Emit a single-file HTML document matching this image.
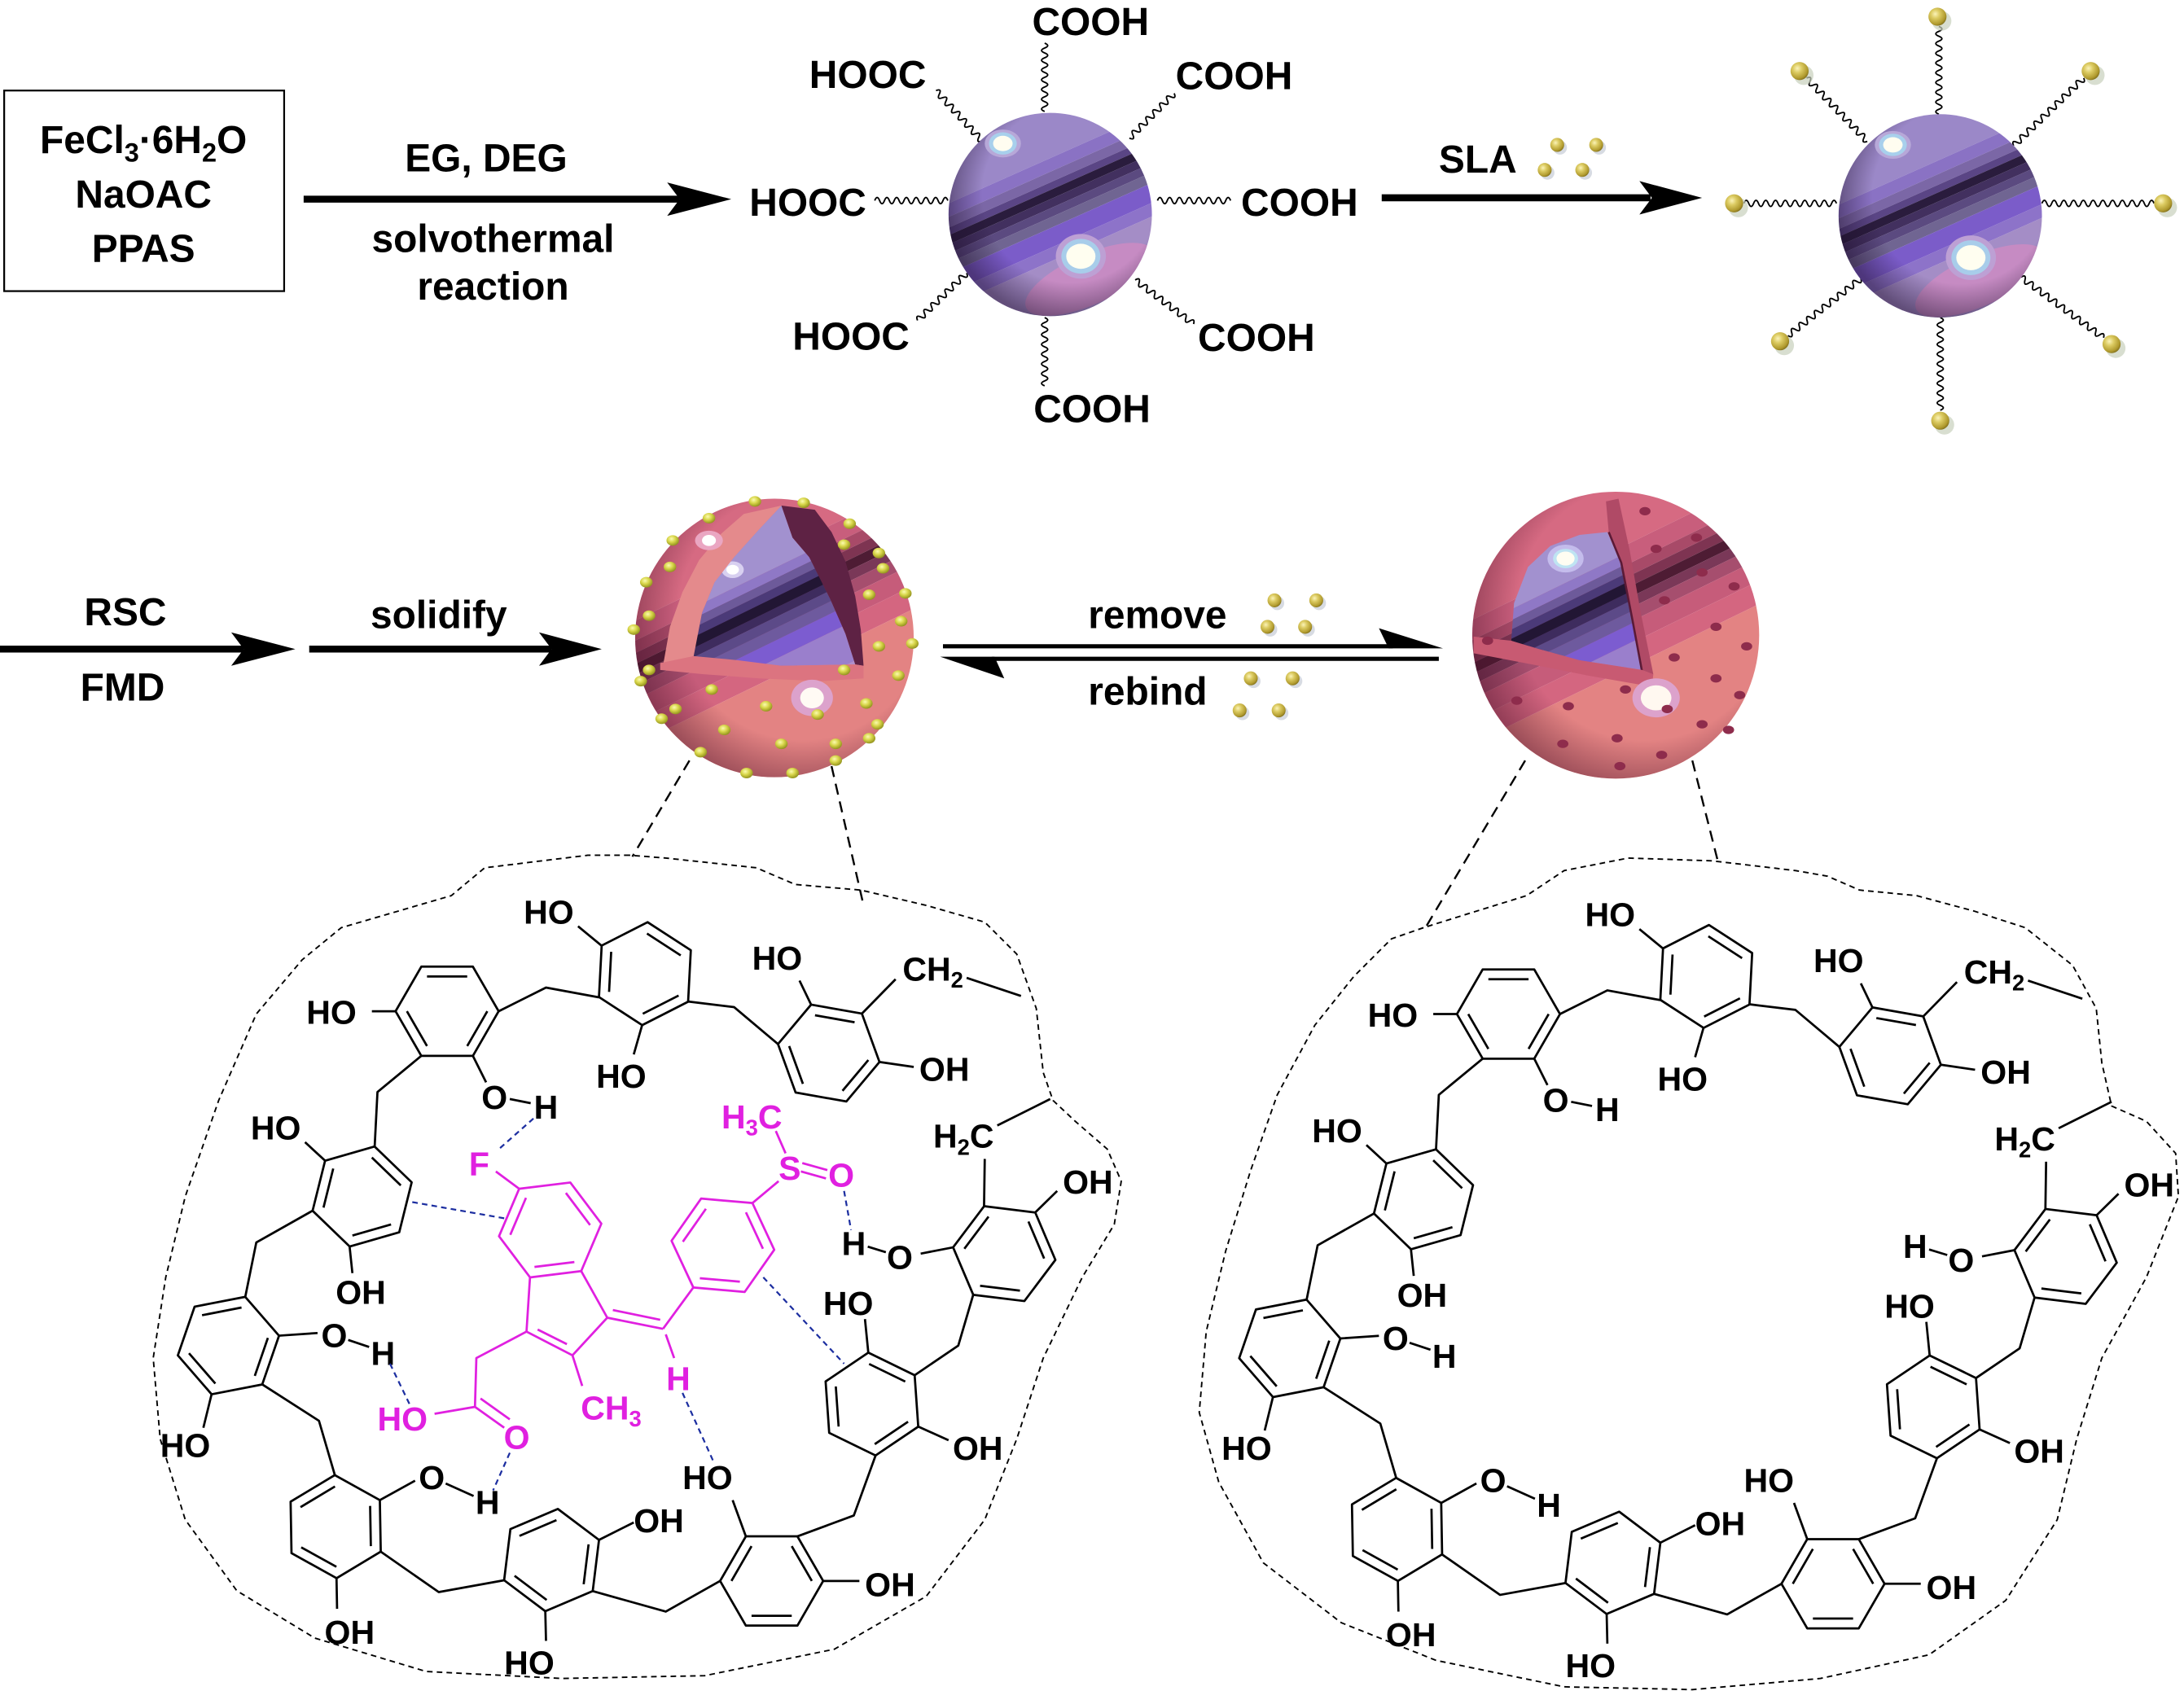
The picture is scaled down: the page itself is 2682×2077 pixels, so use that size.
<!DOCTYPE html>
<html><head><meta charset="utf-8"><style>
html,body{margin:0;padding:0;background:#fff;}
svg{display:block;}
.t{font-family:"Liberation Sans",Arial,sans-serif;font-weight:bold;}
</style></head><body>
<svg width="2682" height="2077" viewBox="0 0 1568 1214" preserveAspectRatio="none" xmlns="http://www.w3.org/2000/svg">
<defs>
<clipPath id="cs1"><circle cx="754" cy="154" r="73"/></clipPath>
<clipPath id="cs3"><circle cx="556" cy="458" r="100"/></clipPath>
<clipPath id="cs4"><circle cx="1160" cy="456" r="103"/></clipPath>
<clipPath id="cp3"><polygon points="498,471 504,440 513,418 527,400 545,380 561,363 569,386 581,400 596,430 607,455 614,477 561,478"/></clipPath>
<clipPath id="cp4"><polygon points="1085,460 1087,433 1097,407 1113,392 1134,384 1154,382 1163,403 1171,442 1179,481 1134,474 1105,466"/></clipPath>
<radialGradient id="rim" cx="0.6" cy="0.4" r="0.62"><stop offset="0.7" stop-color="#20102e" stop-opacity="0"/><stop offset="1" stop-color="#20102e" stop-opacity="0.5"/></radialGradient>
<radialGradient id="rim2" cx="0.6" cy="0.42" r="0.62"><stop offset="0.72" stop-color="#4a1028" stop-opacity="0"/><stop offset="1" stop-color="#4a1028" stop-opacity="0.45"/></radialGradient>
<radialGradient id="bead" cx="0.38" cy="0.35" r="0.7"><stop offset="0" stop-color="#fbf3b8"/><stop offset="0.35" stop-color="#dccb62"/><stop offset="0.8" stop-color="#b09a2e"/><stop offset="1" stop-color="#7d6c1a"/></radialGradient>
<radialGradient id="bead2" cx="0.4" cy="0.35" r="0.7"><stop offset="0" stop-color="#fbfbb0"/><stop offset="0.45" stop-color="#d8d64a"/><stop offset="1" stop-color="#8a8a18"/></radialGradient>
</defs>

<!-- ===== TOP ROW ===== -->
<rect x="3" y="65" width="201" height="144" fill="none" stroke="#000" stroke-width="1.3"/>
<text class="t" x="103" y="110" font-size="28" text-anchor="middle">FeCl<tspan font-size="19" dy="6">3</tspan><tspan dy="-6">·6H</tspan><tspan font-size="19" dy="6">2</tspan><tspan dy="-6">O</tspan></text>
<text class="t" x="103" y="149" font-size="28" text-anchor="middle">NaOAC</text>
<text class="t" x="103" y="188" font-size="28" text-anchor="middle">PPAS</text>

<line x1="218" y1="143" x2="488" y2="143" stroke="#000" stroke-width="5"/>
<polygon points="525,143 479,131 488,143 479,155" fill="#000"/>
<text class="t" x="349" y="123" font-size="28" text-anchor="middle">EG, DEG</text>
<text class="t" x="354" y="181" font-size="28" text-anchor="middle">solvothermal</text>
<text class="t" x="354" y="215" font-size="28" text-anchor="middle">reaction</text>

<!-- sphere 1 waves -->
<g fill="none" stroke="#000" stroke-width="1.1">
<path transform="translate(750,31) rotate(90)" d="M0,0q1.75,-4.4 3.5,0t3.5,0 3.5,0 3.5,0 3.5,0 3.5,0 3.5,0 3.5,0 3.5,0 3.5,0 3.5,0 3.5,0 3.5,0 3.5,0"/>
<path transform="translate(672,65) rotate(47.6)" d="M0,0q1.75,-4.4 3.5,0t3.5,0 3.5,0 3.5,0 3.5,0 3.5,0 3.5,0 3.5,0 3.5,0 3.5,0 3.5,0 3.5,0 3.5,0 3.5,0"/>
<path transform="translate(843,67) rotate(135)" d="M0,0q1.75,-4.4 3.5,0t3.5,0 3.5,0 3.5,0 3.5,0 3.5,0 3.5,0 3.5,0 3.5,0 3.5,0 3.5,0 3.5,0 3.5,0"/>
<path transform="translate(628,144)" d="M0,0q1.75,-4.4 3.5,0t3.5,0 3.5,0 3.5,0 3.5,0 3.5,0 3.5,0 3.5,0 3.5,0 3.5,0 3.5,0 3.5,0 3.5,0 3.5,0 3.5,0"/>
<path transform="translate(831,144)" d="M0,0q1.75,-4.4 3.5,0t3.5,0 3.5,0 3.5,0 3.5,0 3.5,0 3.5,0 3.5,0 3.5,0 3.5,0 3.5,0 3.5,0 3.5,0 3.5,0 3.5,0"/>
<path transform="translate(694,196) rotate(136)" d="M0,0q1.75,-4.4 3.5,0t3.5,0 3.5,0 3.5,0 3.5,0 3.5,0 3.5,0 3.5,0 3.5,0 3.5,0 3.5,0 3.5,0 3.5,0 3.5,0"/>
<path transform="translate(815,201) rotate(37)" d="M0,0q1.75,-4.4 3.5,0t3.5,0 3.5,0 3.5,0 3.5,0 3.5,0 3.5,0 3.5,0 3.5,0 3.5,0 3.5,0 3.5,0 3.5,0 3.5,0 3.5,0"/>
<path transform="translate(750,228) rotate(90)" d="M0,0q1.75,-4.4 3.5,0t3.5,0 3.5,0 3.5,0 3.5,0 3.5,0 3.5,0 3.5,0 3.5,0 3.5,0 3.5,0 3.5,0 3.5,0 3.5,0"/>
</g>

<!-- sphere 1 -->
<g id="sph1">
<g clip-path="url(#cs1)">
 <g transform="translate(754,154) rotate(-24)">
  <rect x="-100" y="-100" width="200" height="63" fill="#9b88c8"/>
  <rect x="-100" y="-37" width="200" height="9" fill="#8a72c4"/>
  <rect x="-100" y="-28" width="200" height="7" fill="#7b67a6"/>
  <rect x="-100" y="-21" width="200" height="5" fill="#5a4585"/>
  <rect x="-100" y="-16" width="200" height="6" fill="#2a1c3d"/>
  <rect x="-100" y="-10" width="200" height="6" fill="#42305f"/>
  <rect x="-100" y="-4" width="200" height="6" fill="#5b4a80"/>
  <rect x="-100" y="2" width="200" height="7" fill="#706592"/>
  <rect x="-100" y="9" width="200" height="13" fill="#7b5cc9"/>
  <rect x="-100" y="22" width="200" height="9" fill="#8d73c9"/>
  <rect x="-100" y="31" width="200" height="69" fill="#a48dc6"/>
  <ellipse cx="7" cy="54" rx="50" ry="18" fill="#c68bc3"/>
 </g>
 <circle cx="754" cy="154" r="73" fill="url(#rim)"/>
 <ellipse cx="720" cy="103" rx="13" ry="10" fill="#b7a8d8"/>
 <ellipse cx="720" cy="103" rx="10" ry="8" fill="#a8d0ec"/>
 <ellipse cx="720" cy="103" rx="7" ry="5.5" fill="#fffdf0"/>
 <ellipse cx="776" cy="184" rx="18" ry="16" fill="#bda0d4"/>
 <ellipse cx="776" cy="184" rx="14" ry="12.5" fill="#a8cdea"/>
 <ellipse cx="776" cy="184" rx="10.5" ry="9" fill="#fffef0"/>
</g>
</g>

<g class="t" font-size="28" text-anchor="middle">
<text x="783" y="25">COOH</text>
<text x="623" y="63">HOOC</text>
<text x="886" y="64">COOH</text>
<text x="580" y="155">HOOC</text>
<text x="933" y="155">COOH</text>
<text x="611" y="251">HOOC</text>
<text x="902" y="252">COOH</text>
<text x="784" y="303">COOH</text>
</g>

<line x1="992" y1="142" x2="1185" y2="142" stroke="#000" stroke-width="5"/>
<polygon points="1222,142 1177,130 1186,142 1177,154" fill="#000"/>
<text class="t" x="1061" y="124" font-size="28" text-anchor="middle">SLA</text>
<g>
<ellipse cx="1120" cy="106" rx="5" ry="5" fill="#c6ccd6" opacity="0.7"/>
<ellipse cx="1118" cy="104" rx="5" ry="5" fill="url(#bead)"/>
<ellipse cx="1148" cy="106" rx="5" ry="5" fill="#c6ccd6" opacity="0.7"/>
<ellipse cx="1146" cy="104" rx="5" ry="5" fill="url(#bead)"/>
<ellipse cx="1111" cy="124" rx="5" ry="5" fill="#c6ccd6" opacity="0.7"/>
<ellipse cx="1109" cy="122" rx="5" ry="5" fill="url(#bead)"/>
<ellipse cx="1138" cy="124" rx="5" ry="5" fill="#c6ccd6" opacity="0.7"/>
<ellipse cx="1136" cy="122" rx="5" ry="5" fill="url(#bead)"/>
</g>

<!-- sphere 2 waves -->
<g fill="none" stroke="#000" stroke-width="1.1">
<path transform="translate(1392,19) rotate(90)" d="M0,0q1.75,-4.4 3.5,0t3.5,0 3.5,0 3.5,0 3.5,0 3.5,0 3.5,0 3.5,0 3.5,0 3.5,0 3.5,0 3.5,0 3.5,0 3.5,0 3.5,0 3.5,0 3.5,0 3.5,0"/>
<path transform="translate(1297,56) rotate(46.2)" d="M0,0q1.75,-4.4 3.5,0t3.5,0 3.5,0 3.5,0 3.5,0 3.5,0 3.5,0 3.5,0 3.5,0 3.5,0 3.5,0 3.5,0 3.5,0 3.5,0 3.5,0 3.5,0 3.5,0 3.5,0"/>
<path transform="translate(1496,56) rotate(136)" d="M0,0q1.75,-4.4 3.5,0t3.5,0 3.5,0 3.5,0 3.5,0 3.5,0 3.5,0 3.5,0 3.5,0 3.5,0 3.5,0 3.5,0 3.5,0 3.5,0 3.5,0 3.5,0 3.5,0 3.5,0 3.5,0 3.5,0"/>
<path transform="translate(1252,146)" d="M0,0q1.75,-4.4 3.5,0t3.5,0 3.5,0 3.5,0 3.5,0 3.5,0 3.5,0 3.5,0 3.5,0 3.5,0 3.5,0 3.5,0 3.5,0 3.5,0 3.5,0 3.5,0 3.5,0 3.5,0 3.5,0"/>
<path transform="translate(1466,146)" d="M0,0q1.75,-4.4 3.5,0t3.5,0 3.5,0 3.5,0 3.5,0 3.5,0 3.5,0 3.5,0 3.5,0 3.5,0 3.5,0 3.5,0 3.5,0 3.5,0 3.5,0 3.5,0 3.5,0 3.5,0 3.5,0 3.5,0 3.5,0 3.5,0 3.5,0"/>
<path transform="translate(1336,200) rotate(142)" d="M0,0q1.75,-4.4 3.5,0t3.5,0 3.5,0 3.5,0 3.5,0 3.5,0 3.5,0 3.5,0 3.5,0 3.5,0 3.5,0 3.5,0 3.5,0 3.5,0 3.5,0 3.5,0 3.5,0 3.5,0 3.5,0"/>
<path transform="translate(1451,199) rotate(36.3)" d="M0,0q1.75,-4.4 3.5,0t3.5,0 3.5,0 3.5,0 3.5,0 3.5,0 3.5,0 3.5,0 3.5,0 3.5,0 3.5,0 3.5,0 3.5,0 3.5,0 3.5,0 3.5,0 3.5,0 3.5,0 3.5,0 3.5,0 3.5,0"/>
<path transform="translate(1393,228) rotate(90)" d="M0,0q1.75,-4.4 3.5,0t3.5,0 3.5,0 3.5,0 3.5,0 3.5,0 3.5,0 3.5,0 3.5,0 3.5,0 3.5,0 3.5,0 3.5,0 3.5,0 3.5,0 3.5,0 3.5,0 3.5,0 3.5,0"/>
</g>

<!-- sphere 2 -->
<g transform="translate(639,1)">
<g clip-path="url(#cs1)">
 <g transform="translate(754,154) rotate(-24)">
  <rect x="-100" y="-100" width="200" height="63" fill="#9b88c8"/>
  <rect x="-100" y="-37" width="200" height="9" fill="#8a72c4"/>
  <rect x="-100" y="-28" width="200" height="7" fill="#7b67a6"/>
  <rect x="-100" y="-21" width="200" height="5" fill="#5a4585"/>
  <rect x="-100" y="-16" width="200" height="6" fill="#2a1c3d"/>
  <rect x="-100" y="-10" width="200" height="6" fill="#42305f"/>
  <rect x="-100" y="-4" width="200" height="6" fill="#5b4a80"/>
  <rect x="-100" y="2" width="200" height="7" fill="#706592"/>
  <rect x="-100" y="9" width="200" height="13" fill="#7b5cc9"/>
  <rect x="-100" y="22" width="200" height="9" fill="#8d73c9"/>
  <rect x="-100" y="31" width="200" height="69" fill="#a48dc6"/>
  <ellipse cx="7" cy="54" rx="50" ry="18" fill="#c68bc3"/>
 </g>
 <circle cx="754" cy="154" r="73" fill="url(#rim)"/>
 <ellipse cx="720" cy="103" rx="13" ry="10" fill="#b7a8d8"/>
 <ellipse cx="720" cy="103" rx="10" ry="8" fill="#a8d0ec"/>
 <ellipse cx="720" cy="103" rx="7" ry="5.5" fill="#fffdf0"/>
 <ellipse cx="776" cy="184" rx="18" ry="16" fill="#bda0d4"/>
 <ellipse cx="776" cy="184" rx="14" ry="12.5" fill="#a8cdea"/>
 <ellipse cx="776" cy="184" rx="10.5" ry="9" fill="#fffef0"/>
</g>
</g>

<!-- sphere 2 beads -->
<g>
<circle cx="1394" cy="15" r="7" fill="#c8d0bc" opacity="0.7"/><circle cx="1391" cy="12" r="6.5" fill="url(#bead)"/>
<circle cx="1295" cy="54" r="7" fill="#c8d0bc" opacity="0.7"/><circle cx="1292" cy="51" r="6.5" fill="url(#bead)"/>
<circle cx="1504" cy="54" r="7" fill="#c8d0bc" opacity="0.7"/><circle cx="1501" cy="51" r="6.5" fill="url(#bead)"/>
<circle cx="1248" cy="149" r="7" fill="#c8d0bc" opacity="0.7"/><circle cx="1245" cy="146" r="6.5" fill="url(#bead)"/>
<circle cx="1556" cy="149" r="7" fill="#c8d0bc" opacity="0.7"/><circle cx="1553" cy="146" r="6.5" fill="url(#bead)"/>
<circle cx="1281" cy="248" r="7" fill="#c8d0bc" opacity="0.7"/><circle cx="1278" cy="245" r="6.5" fill="url(#bead)"/>
<circle cx="1519" cy="250" r="7" fill="#c8d0bc" opacity="0.7"/><circle cx="1516" cy="247" r="6.5" fill="url(#bead)"/>
<circle cx="1396" cy="305" r="7" fill="#c8d0bc" opacity="0.7"/><circle cx="1393" cy="302" r="6.5" fill="url(#bead)"/>
</g>

<!-- ===== MIDDLE ROW ===== -->
<text class="t" x="90" y="449" font-size="28" text-anchor="middle">RSC</text>
<text class="t" x="88" y="503" font-size="28" text-anchor="middle">FMD</text>
<line x1="0" y1="466" x2="175" y2="466" stroke="#000" stroke-width="5"/>
<polygon points="212,466 166,454 175,466 166,478" fill="#000"/>
<text class="t" x="315" y="451" font-size="28" text-anchor="middle">solidify</text>
<line x1="222" y1="466" x2="396" y2="466" stroke="#000" stroke-width="5"/>
<polygon points="432,466 387,454 396,466 387,478" fill="#000"/>

<line x1="677" y1="464" x2="1000" y2="464" stroke="#000" stroke-width="3"/>
<polygon points="1036,465.5 990,451 997,465.5" fill="#000"/>
<line x1="712" y1="473" x2="1033" y2="473" stroke="#000" stroke-width="3"/>
<polygon points="675,471.5 721,487 714,471.5" fill="#000"/>
<text class="t" x="831" y="451" font-size="28" text-anchor="middle">remove</text>
<text class="t" x="824" y="506" font-size="28" text-anchor="middle">rebind</text>
<g>
<circle cx="917" cy="433" r="5" fill="#c6ccd6" opacity="0.7"/><circle cx="915" cy="431" r="5" fill="url(#bead)"/>
<circle cx="947" cy="433" r="5" fill="#c6ccd6" opacity="0.7"/><circle cx="945" cy="431" r="5" fill="url(#bead)"/>
<circle cx="912" cy="452" r="5" fill="#c6ccd6" opacity="0.7"/><circle cx="910" cy="450" r="5" fill="url(#bead)"/>
<circle cx="939" cy="452" r="5" fill="#c6ccd6" opacity="0.7"/><circle cx="937" cy="450" r="5" fill="url(#bead)"/>
<circle cx="900" cy="489" r="5" fill="#c6ccd6" opacity="0.7"/><circle cx="898" cy="487" r="5" fill="url(#bead)"/>
<circle cx="930" cy="489" r="5" fill="#c6ccd6" opacity="0.7"/><circle cx="928" cy="487" r="5" fill="url(#bead)"/>
<circle cx="892" cy="512" r="5" fill="#c6ccd6" opacity="0.7"/><circle cx="890" cy="510" r="5" fill="url(#bead)"/>
<circle cx="920" cy="512" r="5" fill="#c6ccd6" opacity="0.7"/><circle cx="918" cy="510" r="5" fill="url(#bead)"/>
</g>

<!-- sphere 3 -->
<g clip-path="url(#cs3)">
 <g transform="translate(556,458) rotate(-26)">
  <rect x="-130" y="-130" width="260" height="75" fill="#d66a82"/>
  <rect x="-130" y="-55" width="260" height="13" fill="#c85e7c"/>
  <rect x="-130" y="-42" width="260" height="8" fill="#a84a68"/>
  <rect x="-130" y="-34" width="260" height="7" fill="#7e3452"/>
  <rect x="-130" y="-27" width="260" height="7" fill="#4e1c34"/>
  <rect x="-130" y="-20" width="260" height="7" fill="#7a3858"/>
  <rect x="-130" y="-13" width="260" height="9" fill="#a64e6e"/>
  <rect x="-130" y="-4" width="260" height="14" fill="#c65c7a"/>
  <rect x="-130" y="10" width="260" height="15" fill="#d46680"/>
  <rect x="-130" y="25" width="260" height="105" fill="#e38383"/>
 </g>
 <circle cx="556" cy="458" r="100" fill="url(#rim2)"/>
 <g clip-path="url(#cp3)">
  <g transform="translate(556,458) rotate(-26)">
   <rect x="-130" y="-130" width="260" height="85" fill="#a291cf"/>
   <rect x="-130" y="-45" width="260" height="7" fill="#8f78c6"/>
   <rect x="-130" y="-38" width="260" height="6" fill="#6d5a9a"/>
   <rect x="-130" y="-32" width="260" height="6" fill="#4b3a78"/>
   <rect x="-130" y="-26" width="260" height="7" fill="#221634"/>
   <rect x="-130" y="-19" width="260" height="6" fill="#3e2c5e"/>
   <rect x="-130" y="-13" width="260" height="7" fill="#5c4a88"/>
   <rect x="-130" y="-6" width="260" height="8" fill="#6e5a9e"/>
   <rect x="-130" y="2" width="260" height="12" fill="#7c5cd0"/>
   <rect x="-130" y="14" width="260" height="26" fill="#9a7fcc"/>
   <rect x="-130" y="40" width="260" height="90" fill="#b090cc"/>
  </g>
  <ellipse cx="526" cy="409" rx="8" ry="6" fill="#d8d0f0"/>
  <ellipse cx="526" cy="409" rx="4.5" ry="3.5" fill="#fff"/>
 </g>
 <polygon points="534,369 561,363 545,380 527,400 513,418 504,440 498,471 476,478 481,450 490,425 502,402 518,383" fill="#e48a8c"/>
 <polygon points="561,363 585,366 597,382 607,403 614,428 618,452 620,478 614,477 607,455 596,430 581,400 569,386" fill="#5e2244"/>
 <polygon points="474,476 498,471 530,474 561,478 614,477 620,478 620,487 590,489 545,487 505,484 474,481" fill="#dc7480"/>
 <ellipse cx="509" cy="388" rx="10" ry="7" fill="#eaa6c2"/>
 <ellipse cx="509" cy="388" rx="5" ry="4" fill="#fff"/>
 <ellipse cx="583" cy="501" rx="15" ry="13" fill="#dca2cc"/>
 <ellipse cx="583" cy="501" rx="8.5" ry="7.5" fill="#fffaf4"/>
</g>
<g fill="url(#bead2)">
<ellipse cx="542" cy="360" rx="4.5" ry="3.8"/><ellipse cx="577" cy="361" rx="4.5" ry="3.8"/>
<ellipse cx="509" cy="372" rx="4.5" ry="3.8"/><ellipse cx="610" cy="376" rx="4.5" ry="3.8"/>
<ellipse cx="483" cy="388" rx="4.5" ry="3.8"/><ellipse cx="606" cy="391" rx="4.5" ry="3.8"/>
<ellipse cx="631" cy="397" rx="4.5" ry="3.8"/><ellipse cx="634" cy="408" rx="4.5" ry="3.8"/>
<ellipse cx="481" cy="407" rx="4.5" ry="3.8"/><ellipse cx="464" cy="418" rx="4.5" ry="3.8"/>
<ellipse cx="624" cy="427" rx="4.5" ry="3.8"/><ellipse cx="650" cy="426" rx="4.5" ry="3.8"/>
<ellipse cx="466" cy="442" rx="4.5" ry="3.8"/><ellipse cx="647" cy="446" rx="4.5" ry="3.8"/>
<ellipse cx="455" cy="452" rx="4.5" ry="3.8"/><ellipse cx="631" cy="464" rx="4.5" ry="3.8"/>
<ellipse cx="655" cy="462" rx="4.5" ry="3.8"/><ellipse cx="606" cy="481" rx="4.5" ry="3.8"/>
<ellipse cx="466" cy="481" rx="4.5" ry="3.8"/><ellipse cx="460" cy="489" rx="4.5" ry="3.8"/>
<ellipse cx="645" cy="485" rx="4.5" ry="3.8"/><ellipse cx="511" cy="495" rx="4.5" ry="3.8"/>
<ellipse cx="550" cy="507" rx="4.5" ry="3.8"/><ellipse cx="587" cy="513" rx="4.5" ry="3.8"/>
<ellipse cx="485" cy="509" rx="4.5" ry="3.8"/><ellipse cx="622" cy="505" rx="4.5" ry="3.8"/>
<ellipse cx="475" cy="516" rx="4.5" ry="3.8"/><ellipse cx="520" cy="524" rx="4.5" ry="3.8"/>
<ellipse cx="630" cy="520" rx="4.5" ry="3.8"/><ellipse cx="561" cy="534" rx="4.5" ry="3.8"/>
<ellipse cx="600" cy="534" rx="4.5" ry="3.8"/><ellipse cx="503" cy="540" rx="4.5" ry="3.8"/>
<ellipse cx="624" cy="530" rx="4.5" ry="3.8"/><ellipse cx="536" cy="555" rx="4.5" ry="3.8"/>
<ellipse cx="569" cy="555" rx="4.5" ry="3.8"/><ellipse cx="600" cy="546" rx="4.5" ry="3.8"/>
</g>

<!-- sphere 4 -->
<g clip-path="url(#cs4)">
 <g transform="translate(1160,456) rotate(-26)">
  <rect x="-130" y="-130" width="260" height="75" fill="#d66a82"/>
  <rect x="-130" y="-55" width="260" height="13" fill="#c85e7c"/>
  <rect x="-130" y="-42" width="260" height="8" fill="#a84a68"/>
  <rect x="-130" y="-34" width="260" height="7" fill="#7e3452"/>
  <rect x="-130" y="-27" width="260" height="7" fill="#4e1c34"/>
  <rect x="-130" y="-20" width="260" height="7" fill="#7a3858"/>
  <rect x="-130" y="-13" width="260" height="9" fill="#a64e6e"/>
  <rect x="-130" y="-4" width="260" height="14" fill="#c65c7a"/>
  <rect x="-130" y="10" width="260" height="15" fill="#d46680"/>
  <rect x="-130" y="25" width="260" height="105" fill="#e38383"/>
 </g>
 <circle cx="1160" cy="456" r="103" fill="url(#rim2)"/>
 <g clip-path="url(#cp4)">
  <g transform="translate(1160,451) rotate(-26)">
   <rect x="-130" y="-130" width="260" height="85" fill="#a291cf"/>
   <rect x="-130" y="-45" width="260" height="7" fill="#8f78c6"/>
   <rect x="-130" y="-38" width="260" height="6" fill="#6d5a9a"/>
   <rect x="-130" y="-32" width="260" height="6" fill="#4b3a78"/>
   <rect x="-130" y="-26" width="260" height="7" fill="#221634"/>
   <rect x="-130" y="-19" width="260" height="6" fill="#3e2c5e"/>
   <rect x="-130" y="-13" width="260" height="7" fill="#5c4a88"/>
   <rect x="-130" y="-6" width="260" height="8" fill="#6e5a9e"/>
   <rect x="-130" y="2" width="260" height="12" fill="#7c5cd0"/>
   <rect x="-130" y="14" width="260" height="26" fill="#9a7fcc"/>
   <rect x="-130" y="40" width="260" height="90" fill="#b090cc"/>
  </g>
  <ellipse cx="1124" cy="401" rx="13" ry="10" fill="#c4bcec"/>
  <ellipse cx="1124" cy="401" rx="9" ry="7" fill="#bfe4f2"/>
  <ellipse cx="1124" cy="401" rx="6.5" ry="5" fill="#fffdf2"/>
 </g>
 <polygon points="1153,360 1162,358 1170,395 1178,440 1187,484 1180,488 1172,445 1164,404 1155,382" fill="#b04a66"/>
 <polyline points="1155,382 1164,404 1172,445 1180,488" fill="none" stroke="#5a1a36" stroke-width="1.5"/>
 <polygon points="1058,457 1085,460 1105,466 1134,474 1179,481 1187,484 1186,493 1140,485 1100,477 1058,469" fill="#c85a72"/>
 <ellipse cx="1189" cy="501" rx="17" ry="14" fill="#dca2cc"/>
 <ellipse cx="1189" cy="501" rx="11" ry="9" fill="#fff8f0"/>
</g>
<g fill="#8e2c4c">
<ellipse cx="1181" cy="367" rx="4" ry="3"/><ellipse cx="1218" cy="386" rx="4" ry="3"/>
<ellipse cx="1189" cy="394" rx="4" ry="3"/><ellipse cx="1222" cy="411" rx="4" ry="3"/>
<ellipse cx="1245" cy="421" rx="4" ry="3"/><ellipse cx="1195" cy="431" rx="4" ry="3"/>
<ellipse cx="1232" cy="450" rx="4" ry="3"/><ellipse cx="1254" cy="464" rx="4" ry="3"/>
<ellipse cx="1202" cy="472" rx="4" ry="3"/><ellipse cx="1167" cy="495" rx="4" ry="3"/>
<ellipse cx="1126" cy="507" rx="4" ry="3"/><ellipse cx="1089" cy="503" rx="4" ry="3"/>
<ellipse cx="1232" cy="487" rx="4" ry="3"/><ellipse cx="1249" cy="499" rx="4" ry="3"/>
<ellipse cx="1222" cy="520" rx="4" ry="3"/><ellipse cx="1197" cy="509" rx="4" ry="3"/>
<ellipse cx="1161" cy="530" rx="4" ry="3"/><ellipse cx="1122" cy="534" rx="4" ry="3"/>
<ellipse cx="1193" cy="542" rx="4" ry="3"/><ellipse cx="1163" cy="550" rx="4" ry="3"/>
<ellipse cx="1241" cy="524" rx="4" ry="3"/><ellipse cx="1068" cy="460" rx="4" ry="3"/>
</g>

<!-- dashed zoom lines -->
<g stroke="#000" stroke-width="1.4" stroke-dasharray="8 5" fill="none">
<line x1="495" y1="546" x2="454" y2="615"/>
<line x1="597" y1="550" x2="620" y2="650"/>
<line x1="1095" y1="546" x2="1024" y2="665"/>
<line x1="1215" y1="546" x2="1233" y2="617"/>
</g>

<!-- clouds -->
<g fill="none" stroke="#000" stroke-width="1.1" stroke-dasharray="4 3" stroke-linejoin="round">
<polygon points="452,614 422,614 348,623 324,643 245,666 217,689 184,728 157,790 133,859 119,917 110,975 115,1033 133,1091 170,1142 226,1176 306,1200 404,1205 506,1203 599,1184 665,1146 707,1091 730,1033 749,975 777,917 800,879 805,848 795,825 772,805 756,790 749,770 744,724 730,685 707,662 665,650 618,639 571,635 543,623 478,616"/>
<polygon points="1022,666 999,674 972,701 944,736 917,786 898,840 880,898 866,956 861,1014 875,1064 907,1122 963,1165 1031,1192 1123,1211 1215,1213 1307,1205 1385,1188 1440,1149 1477,1091 1491,1033 1509,975 1541,917 1564,859 1562,828 1541,805 1516,794 1509,763 1505,724 1488,693 1454,666 1417,654 1376,643 1335,639 1312,629 1289,625 1229,618 1169,616 1123,625 1096,643 1054,656"/>
</g>

<!-- ===== LEFT STRUCTURE (black) ===== -->
<g id="leftS">
<g fill="none" stroke="#000" stroke-width="1.6" stroke-linejoin="round">
<path transform="translate(321,726)" d="M37,0L18.5,32.04L-18.5,32.04L-37,0L-18.5,-32.04L18.5,-32.04Z M28.86,0L14.43,24.99M-14.43,24.99L-28.86,0M-14.43,-24.99L14.43,-24.99"/>
<path transform="translate(463,699) rotate(-27)" d="M37,0L18.5,32.04L-18.5,32.04L-37,0L-18.5,-32.04L18.5,-32.04Z M14.43,24.99L-14.43,24.99M-28.86,0L-14.43,-24.99M14.43,-24.99L28.86,0"/>
<path transform="translate(595,756) rotate(10)" d="M37,0L18.5,32.04L-18.5,32.04L-37,0L-18.5,-32.04L18.5,-32.04Z M28.86,0L14.43,24.99M-14.43,24.99L-28.86,0M-14.43,-24.99L14.43,-24.99"/>
<path transform="translate(260,859) rotate(-16)" d="M37,0L18.5,32.04L-18.5,32.04L-37,0L-18.5,-32.04L18.5,-32.04Z M14.43,24.99L-14.43,24.99M-28.86,0L-14.43,-24.99M14.43,-24.99L28.86,0"/>
<path transform="translate(164,966) rotate(-11)" d="M37,0L18.5,32.04L-18.5,32.04L-37,0L-18.5,-32.04L18.5,-32.04Z M28.86,0L14.43,24.99M-14.43,24.99L-28.86,0M-14.43,-24.99L14.43,-24.99"/>
<path transform="translate(241,1096) rotate(29)" d="M37,0L18.5,32.04L-18.5,32.04L-37,0L-18.5,-32.04L18.5,-32.04Z M14.43,24.99L-14.43,24.99M-28.86,0L-14.43,-24.99M14.43,-24.99L28.86,0"/>
<path transform="translate(396,1120) rotate(-23)" d="M37,0L18.5,32.04L-18.5,32.04L-37,0L-18.5,-32.04L18.5,-32.04Z M28.86,0L14.43,24.99M-14.43,24.99L-28.86,0M-14.43,-24.99L14.43,-24.99"/>
<path transform="translate(554,1135)" d="M37,0L18.5,32.04L-18.5,32.04L-37,0L-18.5,-32.04L18.5,-32.04Z M14.43,24.99L-14.43,24.99M-28.86,0L-14.43,-24.99M14.43,-24.99L28.86,0"/>
<path transform="translate(626,1008) rotate(26)" d="M37,0L18.5,32.04L-18.5,32.04L-37,0L-18.5,-32.04L18.5,-32.04Z M28.86,0L14.43,24.99M-14.43,24.99L-28.86,0M-14.43,-24.99L14.43,-24.99"/>
<path transform="translate(721,900) rotate(7)" d="M37,0L18.5,32.04L-18.5,32.04L-37,0L-18.5,-32.04L18.5,-32.04Z M14.43,24.99L-14.43,24.99M-28.86,0L-14.43,-24.99M14.43,-24.99L28.86,0"/>
<path d="M267,726L284,726 M358,726L392,709L430,716 M339.5,758L349,777 M366,789L381,792 M302.5,758L271,784L269,823 M432,679L415,665 M461,736L455,757 M494,719L527,723L558.6,749.6 M582.3,721.2L574,704 M618.8,727.7L643,703 M694,702L733,715 M631.4,762.4L656,766 M233.4,833.3L219,820 M251,895L253,914 M224.4,869.2L184,892L176.1,931 M200.3,958.9L228,957 M250,962L265,967 M151.9,1001L146,1025 M188.3,993.9L229,1020L240.4,1059 M272.7,1077L298,1063 M320,1065L340,1074 M241.6,1133L242,1155 M273.4,1114L315,1143L361.9,1134.5 M430.1,1105.5L455,1093 M391.5,1156.7L392,1178 M425.6,1142.3L478,1157L517,1135 M535.5,1103L526,1077 M591,1135L617,1135 M572.5,1103L613,1088L628.6,1045 M659.3,1024.2L681,1034 M623.4,971.1L621,947 M656.7,987.3L688,966L698.7,929.6 M743.3,870.4L759,855 M706.5,865.9L707,832 M716,808L754,789 M684.3,895.5L661,900 M623,895L636,899"/>
</g>
<g class="t" font-size="24" text-anchor="middle" fill="#000">
<text x="394" y="663">HO</text>
<text x="558" y="696">HO</text>
<text x="648" y="704" text-anchor="start">CH<tspan font-size="16" dy="5">2</tspan></text>
<text x="238" y="735">HO</text>
<text x="446" y="781">HO</text>
<text x="678" y="776">OH</text>
<text x="355" y="796">O</text><text x="392" y="803">H</text>
<text x="198" y="818">HO</text>
<text x="670" y="824" text-anchor="start">H<tspan font-size="16" dy="5">2</tspan><tspan dy="-5">C</tspan></text>
<text x="781" y="857">OH</text>
<text x="613" y="901">H</text><text x="646" y="911">O</text>
<text x="259" y="936">OH</text>
<text x="609" y="944">HO</text>
<text x="240" y="967">O</text><text x="275" y="980">H</text>
<text x="133" y="1046">HO</text>
<text x="702" y="1048">OH</text>
<text x="508" y="1069">HO</text>
<text x="310" y="1069">O</text><text x="350" y="1087">H</text>
<text x="473" y="1100">OH</text>
<text x="639" y="1146">OH</text>
<text x="251" y="1180">OH</text>
<text x="380" y="1202">HO</text>
</g>
</g>

<!-- magenta drug -->
<g fill="none" stroke="#e020e0" stroke-width="1.6" stroke-linejoin="round">
<path transform="translate(395,883) rotate(-7)" d="M37,0L18.5,32.04L-18.5,32.04L-37,0L-18.5,-32.04L18.5,-32.04Z M14.43,24.99L-14.43,24.99M-28.86,0L-14.43,-24.99M14.43,-24.99L28.86,0"/>
<path transform="translate(519,894) rotate(5)" d="M37,0L18.5,32.04L-18.5,32.04L-37,0L-18.5,-32.04L18.5,-32.04Z M14.43,24.99L-14.43,24.99M-28.86,0L-14.43,-24.99M14.43,-24.99L28.86,0"/>
<path d="M380.5,917.1L378,956L411,973L436,946L417.3,912.6 M386,954.5L407,965 M436,946L476,954 M440,940.5L474,947.5 M476,954L497.8,924.3 M478,958L484,975 M411,973L418,995 M378,956L342,975L341,1010 M341,1010L362,1025 M345,1004L366,1019 M341,1010L312,1015 M372.7,853.4L356,841 M540.2,863.7L559,848 M564,828L557,812 M576,835L594,840 M575,841L593,846"/>
</g>
<g class="t" font-size="24" text-anchor="middle" fill="#e020e0">
<text x="518" y="810" text-anchor="start">H<tspan font-size="16" dy="5">3</tspan><tspan dy="-5">C</tspan></text>
<text x="344" y="844">F</text>
<text x="567" y="847">S</text>
<text x="604" y="852">O</text>
<text x="487" y="998">H</text>
<text x="417" y="1019" text-anchor="start">CH<tspan font-size="16" dy="5">3</tspan></text>
<text x="289" y="1027">HO</text>
<text x="371" y="1040">O</text>
</g>
<g fill="none" stroke="#1c2ea0" stroke-width="1.3" stroke-dasharray="4 3">
<path d="M383,803L357,826 M296,863L364,875 M606,855L611,883 M548,917L606,979 M490,1000L513,1051 M280,979L294,1008 M366,1043L354,1070"/>
</g>

<!-- ===== RIGHT STRUCTURE ===== -->
<g transform="translate(762,2)">
<g fill="none" stroke="#000" stroke-width="1.6" stroke-linejoin="round">
<path transform="translate(321,726)" d="M37,0L18.5,32.04L-18.5,32.04L-37,0L-18.5,-32.04L18.5,-32.04Z M28.86,0L14.43,24.99M-14.43,24.99L-28.86,0M-14.43,-24.99L14.43,-24.99"/>
<path transform="translate(463,699) rotate(-27)" d="M37,0L18.5,32.04L-18.5,32.04L-37,0L-18.5,-32.04L18.5,-32.04Z M14.43,24.99L-14.43,24.99M-28.86,0L-14.43,-24.99M14.43,-24.99L28.86,0"/>
<path transform="translate(595,756) rotate(10)" d="M37,0L18.5,32.04L-18.5,32.04L-37,0L-18.5,-32.04L18.5,-32.04Z M28.86,0L14.43,24.99M-14.43,24.99L-28.86,0M-14.43,-24.99L14.43,-24.99"/>
<path transform="translate(260,859) rotate(-16)" d="M37,0L18.5,32.04L-18.5,32.04L-37,0L-18.5,-32.04L18.5,-32.04Z M14.43,24.99L-14.43,24.99M-28.86,0L-14.43,-24.99M14.43,-24.99L28.86,0"/>
<path transform="translate(164,966) rotate(-11)" d="M37,0L18.5,32.04L-18.5,32.04L-37,0L-18.5,-32.04L18.5,-32.04Z M28.86,0L14.43,24.99M-14.43,24.99L-28.86,0M-14.43,-24.99L14.43,-24.99"/>
<path transform="translate(241,1096) rotate(29)" d="M37,0L18.5,32.04L-18.5,32.04L-37,0L-18.5,-32.04L18.5,-32.04Z M14.43,24.99L-14.43,24.99M-28.86,0L-14.43,-24.99M14.43,-24.99L28.86,0"/>
<path transform="translate(396,1120) rotate(-23)" d="M37,0L18.5,32.04L-18.5,32.04L-37,0L-18.5,-32.04L18.5,-32.04Z M28.86,0L14.43,24.99M-14.43,24.99L-28.86,0M-14.43,-24.99L14.43,-24.99"/>
<path transform="translate(554,1135)" d="M37,0L18.5,32.04L-18.5,32.04L-37,0L-18.5,-32.04L18.5,-32.04Z M14.43,24.99L-14.43,24.99M-28.86,0L-14.43,-24.99M14.43,-24.99L28.86,0"/>
<path transform="translate(626,1008) rotate(26)" d="M37,0L18.5,32.04L-18.5,32.04L-37,0L-18.5,-32.04L18.5,-32.04Z M28.86,0L14.43,24.99M-14.43,24.99L-28.86,0M-14.43,-24.99L14.43,-24.99"/>
<path transform="translate(721,900) rotate(7)" d="M37,0L18.5,32.04L-18.5,32.04L-37,0L-18.5,-32.04L18.5,-32.04Z M14.43,24.99L-14.43,24.99M-28.86,0L-14.43,-24.99M14.43,-24.99L28.86,0"/>
<path d="M267,726L284,726 M358,726L392,709L430,716 M339.5,758L349,777 M366,789L381,792 M302.5,758L271,784L269,823 M432,679L415,665 M461,736L455,757 M494,719L527,723L558.6,749.6 M582.3,721.2L574,704 M618.8,727.7L643,703 M694,702L733,715 M631.4,762.4L656,766 M233.4,833.3L219,820 M251,895L253,914 M224.4,869.2L184,892L176.1,931 M200.3,958.9L228,957 M250,962L265,967 M151.9,1001L146,1025 M188.3,993.9L229,1020L240.4,1059 M272.7,1077L298,1063 M320,1065L340,1074 M241.6,1133L242,1155 M273.4,1114L315,1143L361.9,1134.5 M430.1,1105.5L455,1093 M391.5,1156.7L392,1178 M425.6,1142.3L478,1157L517,1135 M535.5,1103L526,1077 M591,1135L617,1135 M572.5,1103L613,1088L628.6,1045 M659.3,1024.2L681,1034 M623.4,971.1L621,947 M656.7,987.3L688,966L698.7,929.6 M743.3,870.4L759,855 M706.5,865.9L707,832 M716,808L754,789 M684.3,895.5L661,900 M623,895L636,899"/>
</g>
<g class="t" font-size="24" text-anchor="middle" fill="#000">
<text x="394" y="663">HO</text>
<text x="558" y="696">HO</text>
<text x="648" y="704" text-anchor="start">CH<tspan font-size="16" dy="5">2</tspan></text>
<text x="238" y="735">HO</text>
<text x="446" y="781">HO</text>
<text x="678" y="776">OH</text>
<text x="355" y="796">O</text><text x="392" y="803">H</text>
<text x="198" y="818">HO</text>
<text x="670" y="824" text-anchor="start">H<tspan font-size="16" dy="5">2</tspan><tspan dy="-5">C</tspan></text>
<text x="781" y="857">OH</text>
<text x="613" y="901">H</text><text x="646" y="911">O</text>
<text x="259" y="936">OH</text>
<text x="609" y="944">HO</text>
<text x="240" y="967">O</text><text x="275" y="980">H</text>
<text x="133" y="1046">HO</text>
<text x="702" y="1048">OH</text>
<text x="508" y="1069">HO</text>
<text x="310" y="1069">O</text><text x="350" y="1087">H</text>
<text x="473" y="1100">OH</text>
<text x="639" y="1146">OH</text>
<text x="251" y="1180">OH</text>
<text x="380" y="1202">HO</text>
</g>
</g>

</svg>
</body></html>
